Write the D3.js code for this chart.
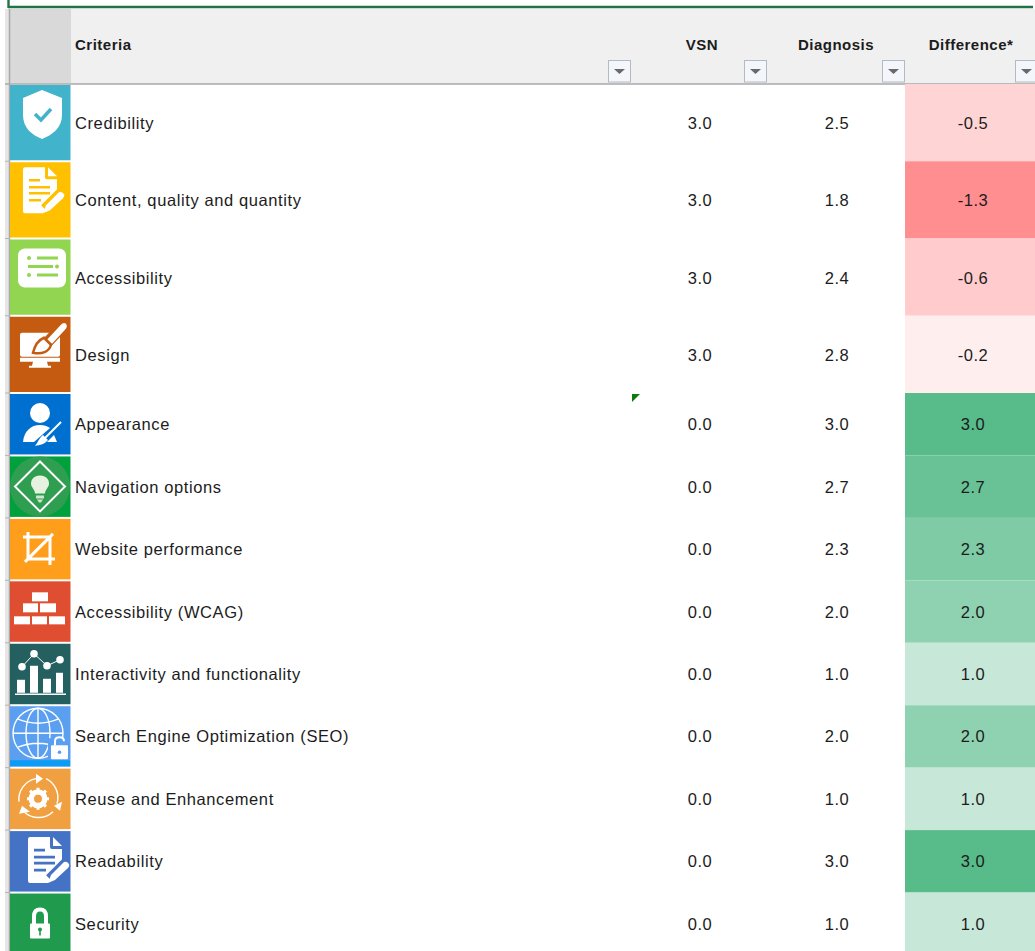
<!DOCTYPE html>
<html>
<head>
<meta charset="utf-8">
<script src="https://cdn.jsdelivr.net/npm/d3@7"></script>
<style>
  html, body { margin: 0; padding: 0; background: #fff; overflow: hidden; }
  svg { display: block; }
  text { font-family: "Liberation Sans", Arial, sans-serif; fill: #1c1c1c; letter-spacing: 0.5px; }
  text.label { letter-spacing: 0.6px; }
</style>
</head>
<body>
<svg id="chart" width="1035" height="951"></svg>
<script>
// table values
const criteria = ["Credibility", "Content, quality and quantity", "Accessibility", "Design",
  "Appearance", "Navigation options", "Website performance", "Accessibility (WCAG)",
  "Interactivity and functionality", "Search Engine Optimization (SEO)",
  "Reuse and Enhancement", "Readability", "Security"];
const vsn = [3.0, 3.0, 3.0, 3.0, 0.0, 0.0, 0.0, 0.0, 0.0, 0.0, 0.0, 0.0, 0.0];
const diagnosis = [2.5, 1.8, 2.4, 2.8, 3.0, 2.7, 2.3, 2.0, 1.0, 2.0, 1.0, 3.0, 1.0];
const difference = [-0.5, -1.3, -0.6, -0.2, 3.0, 2.7, 2.3, 2.0, 1.0, 2.0, 1.0, 3.0, 1.0];
const headers = ["Criteria", "VSN", "Diagnosis", "Difference*"];
const iconColors = ["#41b3cb", "#ffc000", "#92d550", "#c55a11", "#0070d0", "#00a03c", "#ff9e1b",
  "#e04e32", "#256060", "#5a9ff0", "#f0a040", "#4472c4", "#209a4c"];
const iconNames = ["shield", "doc", "list", "design", "person", "bulb", "crop", "bricks",
  "bars", "globe", "gear", "doc2", "lock"];

const svg = d3.select("#chart");
const headerBottom = 84, tallBottom = 393, tableBottom = 955;

// the first four rows are taller than the others
const tallY = d3.scaleBand().domain(criteria.slice(0, 4)).range([headerBottom, tallBottom]);
const shortY = d3.scaleBand().domain(d3.range(4, 13)).range([tallBottom, tableBottom]);
const rowTop = i => i < 4 ? tallY(criteria[i]) : shortY(i);
const rowH = i => i < 4 ? tallY.bandwidth() : shortY.bandwidth();
const textY = i => rowTop(i) + rowH(i) / 2 + (i < 4 ? 6.5 : 6);

const colX = d3.scaleOrdinal().domain(["VSN", "Diagnosis", "Difference"]).range([700, 837, 973]);
const diffColor = d3.scaleLinear().domain([-1.3, 0, 3]).range(["#ff8e90", "#ffffff", "#57bb8a"]);

// frame, gutter and header
svg.append("rect").attr("width", 1035).attr("height", 951).attr("fill", "#fff");
svg.append("rect").attr("x", 5).attr("y", 9).attr("width", 4).attr("height", 942).attr("fill", "#e6e6e6");
svg.append("rect").attr("x", 9).attr("y", 9).attr("width", 1026).attr("height", 75).attr("fill", "#f0f0f0");
svg.append("rect").attr("x", 10).attr("y", 9).attr("width", 61).attr("height", 74).attr("fill", "#d9d9d9");
svg.append("line").attr("x1", 8).attr("x2", 1033).attr("y1", 7).attr("y2", 7)
  .attr("stroke", "#217346").attr("stroke-width", 2.4);
svg.append("line").attr("x1", 8.5).attr("x2", 8.5).attr("y1", 0).attr("y2", 8)
  .attr("stroke", "#217346").attr("stroke-width", 2.4);
svg.append("line").attr("x1", 9.5).attr("x2", 9.5).attr("y1", 9).attr("y2", 951)
  .attr("stroke", "#a9a9a9").attr("stroke-width", 1.5);
svg.append("line").attr("x1", 5).attr("x2", 1035).attr("y1", 84).attr("y2", 84)
  .attr("stroke", "#a9a9a9").attr("stroke-width", 1.5);

const headerX = [75, 702, 836, 971];
svg.selectAll("text.head").data(headers).enter().append("text")
  .attr("class", "head")
  .attr("x", (d, i) => headerX[i])
  .attr("y", 50)
  .attr("text-anchor", (d, i) => i ? "middle" : "start")
  .attr("font-size", 15)
  .attr("font-weight", "bold")
  .text(d => d);

// filter buttons
const filterX = [608, 744, 882, 1015];
const filters = svg.selectAll("g.filter").data(filterX).enter().append("g")
  .attr("class", "filter")
  .attr("transform", d => `translate(${d},60)`);
filters.append("rect").attr("x", 0.5).attr("y", 0.5).attr("width", 22).attr("height", 21.5)
  .attr("fill", "#f3f6fa").attr("stroke", "#b4bac0");
filters.append("path").attr("d", "M6,9H17L11.5,14Z").attr("fill", "#6a6a6a");

// row ticks in the gutter
svg.selectAll("line.tick").data(d3.range(1, 13)).enter().append("line")
  .attr("class", "tick")
  .attr("x1", 5).attr("x2", 10)
  .attr("y1", i => rowTop(i)).attr("y2", i => rowTop(i))
  .attr("stroke", "#b5b5b5");

const rows = svg.selectAll("g.row").data(criteria).enter().append("g").attr("class", "row");

rows.append("rect")
  .attr("x", 905).attr("width", 130)
  .attr("y", (d, i) => rowTop(i))
  .attr("height", (d, i) => rowH(i))
  .attr("fill", (d, i) => diffColor(difference[i]));

rows.append("rect")
  .attr("x", 10).attr("width", 60.5)
  .attr("y", (d, i) => rowTop(i) + 1)
  .attr("height", (d, i) => rowH(i) - 2)
  .attr("fill", (d, i) => iconColors[i]);

rows.append("text")
  .attr("class", "label")
  .attr("x", 75)
  .attr("y", (d, i) => textY(i))
  .attr("font-size", 16.5)
  .text(d => d);

[["VSN", vsn], ["Diagnosis", diagnosis], ["Difference", difference]].forEach(([name, values]) => {
  rows.append("text")
    .attr("x", colX(name))
    .attr("y", (d, i) => textY(i))
    .attr("text-anchor", "middle")
    .attr("font-size", 16.5)
    .text((d, i) => values[i].toFixed(1));
});

// comment marker on the Appearance row
svg.append("path").attr("d", "M632,394H640L632,402Z").attr("fill", "#0a7d0a");

// icons, drawn relative to the top left corner of the cell
function docIcon(g, color, ox, oy) {
  const n = g.append("g").attr("transform", `translate(${ox},${oy})`);
  n.append("path").attr("d", "M2,0H22V10Q22,12 24,12H34V27L20,46H2Q0,46 0,44V2Q0,0 2,0Z").attr("fill", "#fff");
  n.append("path").attr("d", "M25,0L34,9H25Z").attr("fill", "#fff");
  n.append("path").attr("d", "M6,13H17M6,20H27M6,26H27M6,33H18")
    .attr("stroke", color).attr("stroke-width", 2.6).attr("fill", "none");
  n.append("path").attr("d", "M22,42L39,25").attr("stroke", color).attr("stroke-width", 11);
  n.append("path").attr("d", "M20,46L23,38L36,25Q39,24 41,27Q42,29 40,31L27,43Z").attr("fill", "#fff");
}

const icons = {
  shield(g, c) {
    g.append("path").attr("d", "M32,6L52,14V31C52,44 42,51 32,55C22,51 13,44 13,31V14Z").attr("fill", "#fff");
    g.append("path").attr("d", "M25,30L31,36L41,25").attr("fill", "none").attr("stroke", c).attr("stroke-width", 3.5);
  },
  doc(g, c) { docIcon(g, c, 13, 6); },
  doc2(g, c) { docIcon(g, c, 18, 7); },
  list(g, c) {
    g.append("rect").attr("x", 8).attr("y", 10).attr("width", 48).attr("height", 39).attr("rx", 7).attr("fill", "#fff");
    g.append("path").attr("d", "M27,19.500H48M18,28H43M27,36.500H48").attr("stroke", c).attr("stroke-width", 3.2).attr("fill", "none");
    g.selectAll("circle").data([[19, 19.5], [47, 28], [19, 36.5]]).enter().append("circle")
      .attr("cx", d => d[0]).attr("cy", d => d[1]).attr("r", 2).attr("fill", c);
  },
  design(g, c) {
    g.append("rect").attr("x", 10).attr("y", 17).attr("width", 40).attr("height", 24).attr("rx", 2).attr("fill", "#fff");
    g.append("path").attr("d", "M10,42H50V46H10ZM23,46H37L38,50H41V52H19V50H22Z").attr("fill", "#fff");
    g.append("path").attr("d", "M37,27L55,8").attr("stroke", c).attr("stroke-width", 11);
    g.append("path").attr("d", "M37,24L50,10Q53,6 56,8Q58,11 55,14L42,28Z").attr("fill", "#fff");
    g.append("path").attr("d", "M34,22L41,29C39,36 32,39 23,37C25,30 27,25 34,22Z")
      .attr("fill", "#fff").attr("stroke", c).attr("stroke-width", 2.5);
  },
  person(g, c) {
    g.append("circle").attr("cx", 30).attr("cy", 20).attr("r", 10).attr("fill", "#fff");
    g.append("path").attr("d", "M13,49C14,38 21,32 30,32C34,32 37,33 40,35L24,49Z").attr("fill", "#fff");
    g.append("path").attr("d", "M51,29L35,45").attr("stroke", "#fff").attr("stroke-width", 2);
    g.append("path").attr("d", "M33,42L38,47C35,51 30,52 25,53C28,49 30,44 33,42Z").attr("fill", "#fff");
    g.append("path").attr("d", "M44,42L47,49H37Z").attr("fill", "#fff");
  },
  bulb(g) {
    g.append("circle").attr("cx", 30).attr("cy", 31).attr("r", 30).attr("fill", "#2f9e50");
    g.append("path").attr("d", "M30,6L55,31L30,56L5,31Z").attr("fill", "none").attr("stroke", "#fff").attr("stroke-width", 2);
    g.append("path").attr("d", "M30,20C36,20 39,24 39,28C39,32 35,34 35,38H25C25,34 21,32 21,28C21,24 24,20 30,20Z").attr("fill", "#e6f2e0");
    g.append("path").attr("d", "M26,40H34V43H26ZM27,44H33L31,47H29Z").attr("fill", "#cfe6cc");
  },
  crop(g) {
    g.append("path").attr("d", "M13,19H40V47M18,14V41H45M43,16L15,44")
      .attr("fill", "none").attr("stroke", "#fff").attr("stroke-width", 3);
  },
  bricks(g) {
    const bricks = [[22, 12, 16, 9], [13, 23, 15, 9], [30, 23, 16, 9], [4, 36, 16, 8], [22, 36, 15, 8], [39, 36, 16, 8]];
    g.selectAll("rect.brick").data(bricks).enter().append("rect")
      .attr("class", "brick")
      .attr("x", d => d[0]).attr("y", d => d[1]).attr("width", d => d[2]).attr("height", d => d[3]).attr("fill", "#fff");
  },
  bars(g) {
    const bars = [[7, 37, 8], [20, 23, 8], [33, 36, 8], [46, 30, 7]];
    g.selectAll("rect.bar").data(bars).enter().append("rect")
      .attr("class", "bar")
      .attr("x", d => d[0]).attr("y", d => d[1]).attr("width", d => d[2]).attr("height", d => 50 - d[1]).attr("fill", "#fff");
    g.append("path").attr("d", "M5,51.500H56").attr("stroke", "#fff").attr("stroke-width", 1.5);
    const dots = [[12, 24], [24, 11], [37, 23], [50, 17]];
    g.append("path").attr("d", d3.line()(dots)).attr("fill", "none").attr("stroke", "#fff").attr("stroke-width", 1);
    g.selectAll("circle").data(dots).enter().append("circle")
      .attr("cx", d => d[0]).attr("cy", d => d[1]).attr("r", 3.8).attr("fill", "#fff");
  },
  globe(g, c) {
    g.append("rect").attr("x", 0).attr("y", 55).attr("width", 60).attr("height", 6).attr("fill", "#0b9cf5");
    const s = g.append("g").attr("fill", "none").attr("stroke", "#fff").attr("stroke-width", 1.4);
    s.append("circle").attr("cx", 28).attr("cy", 28).attr("r", 25);
    s.append("ellipse").attr("cx", 28).attr("cy", 28).attr("rx", 12).attr("ry", 25);
    s.append("path").attr("d", "M28,3V53M3,28H53M8,14Q28,22 48,14M8,42Q28,34 48,42");
    g.append("rect").attr("x", 38).attr("y", 33).attr("width", 22).attr("height", 20).attr("fill", c);
    g.append("rect").attr("x", 41).attr("y", 40).attr("width", 17).attr("height", 14).attr("rx", 1).attr("fill", "#fff");
    g.append("path").attr("d", "M45,40V36Q45,32 49.500,32Q54,32 54,36").attr("fill", "none").attr("stroke", "#fff").attr("stroke-width", 2);
    g.append("circle").attr("cx", 49.5).attr("cy", 47).attr("r", 1.8).attr("fill", c);
  },
  gear(g, c) {
    const ring = g.append("g").attr("fill", "none").attr("stroke", "#fff").attr("stroke-width", 1.4);
    ring.append("path").attr("d", "M9,34A21,21 0 0 1 26,11M36,11A21,21 0 0 1 47,36M43,44A21,21 0 0 1 14,44");
    g.append("path").attr("d", "M26,6L33,11L26,16ZM44,38L52,34L50,43ZM12,38L20,44L9,46Z").attr("fill", "#fff");
    g.append("circle").attr("cx", 28).attr("cy", 31).attr("r", 7).attr("fill", "none").attr("stroke", "#fff").attr("stroke-width", 5);
    g.append("path").attr("d", "M28,20V42M17,31H39M20,23L36,39M36,23L20,39").attr("stroke", "#fff").attr("stroke-width", 3);
    g.append("circle").attr("cx", 28).attr("cy", 31).attr("r", 4).attr("fill", c);
  },
  lock(g, c) {
    g.append("path").attr("d", "M24,32V24Q24,17 30,17Q36,17 36,24V32").attr("fill", "none").attr("stroke", "#fff").attr("stroke-width", 4);
    g.append("rect").attr("x", 20).attr("y", 31).attr("width", 20).attr("height", 15).attr("rx", 1).attr("fill", "#fff");
    g.append("circle").attr("cx", 30).attr("cy", 37).attr("r", 2).attr("fill", c);
    g.append("path").attr("d", "M30,37V43").attr("stroke", c).attr("stroke-width", 1.6);
  }
};

rows.each(function(d, i) {
  const g = d3.select(this).append("g").attr("transform", `translate(10,${rowTop(i)})`);
  icons[iconNames[i]](g, iconColors[i]);
});
</script>
</body>
</html>
